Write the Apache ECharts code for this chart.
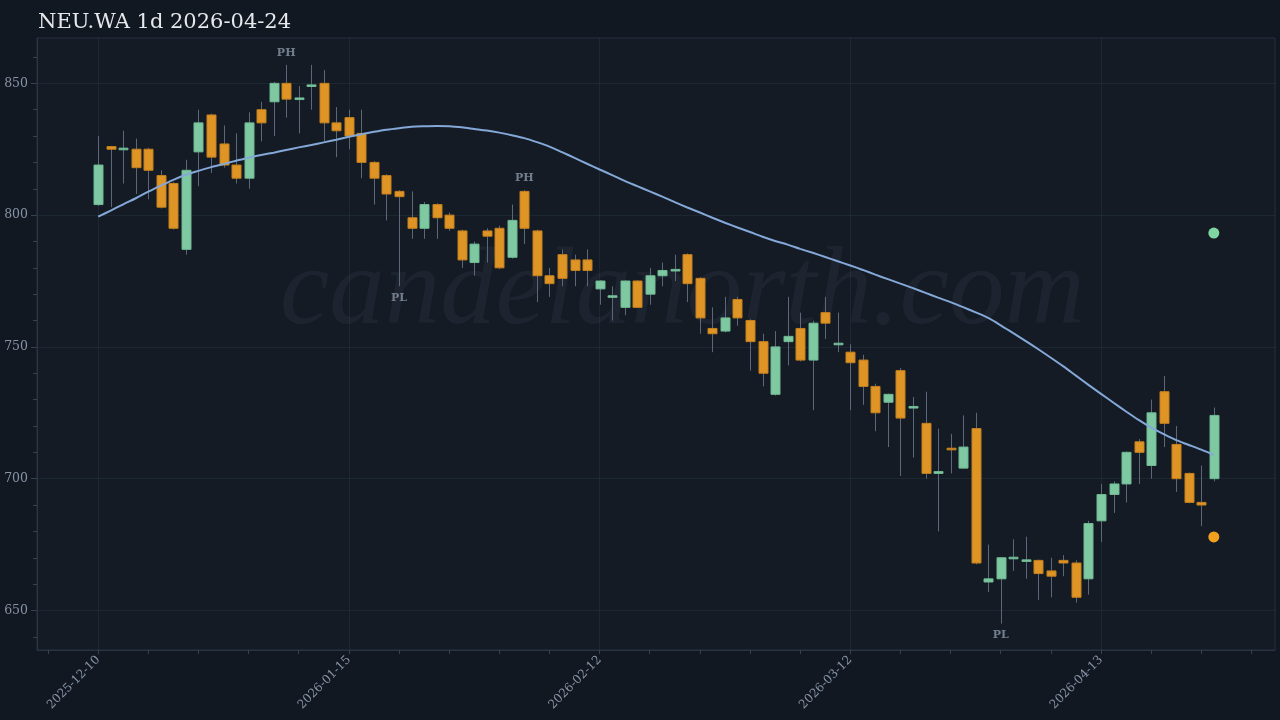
<!DOCTYPE html>
<html><head><meta charset="utf-8">
<script src="https://cdn.jsdelivr.net/npm/echarts@6/dist/echarts.min.js"></script>
<style>html,body{margin:0;padding:0;background:#111821;}#c{width:1280px;height:720px;}</style>
</head><body><div id="c"></div>
<script>
const dates = ['2025-12-10','2025-12-11','2025-12-12','2025-12-15','2025-12-16','2025-12-17','2025-12-18','2025-12-19','2025-12-22','2025-12-23',
'2025-12-29','2025-12-30','2026-01-02','2026-01-05','2026-01-07','2026-01-08','2026-01-09','2026-01-12','2026-01-13','2026-01-14',
'2026-01-15','2026-01-16','2026-01-19','2026-01-20','2026-01-21','2026-01-22','2026-01-23','2026-01-26','2026-01-27','2026-01-28',
'2026-01-29','2026-01-30','2026-02-02','2026-02-03','2026-02-04','2026-02-05','2026-02-06','2026-02-09','2026-02-10','2026-02-11',
'2026-02-12','2026-02-13','2026-02-16','2026-02-17','2026-02-18','2026-02-19','2026-02-20','2026-02-23','2026-02-24','2026-02-25',
'2026-02-26','2026-02-27','2026-03-02','2026-03-03','2026-03-04','2026-03-05','2026-03-06','2026-03-09','2026-03-10','2026-03-11',
'2026-03-12','2026-03-13','2026-03-16','2026-03-17','2026-03-18','2026-03-19','2026-03-20','2026-03-23','2026-03-24','2026-03-25',
'2026-03-26','2026-03-27','2026-03-30','2026-03-31','2026-04-01','2026-04-02','2026-04-07','2026-04-08','2026-04-09','2026-04-10',
'2026-04-13','2026-04-14','2026-04-15','2026-04-16','2026-04-17','2026-04-20','2026-04-21','2026-04-22','2026-04-23','2026-04-24'];

const opens = [804,826,825,825,825,815,812,787,824,838,
827,819,814,840,843,850,844,849,850,835,
837,831,820,815,809,799,795,804,800,794,
782,794,795,784,809,794,777,785,783,783,
772,769,765,775,770,777,779,785,776,757,
756,768,760,752,732,752,757,745,763,751,
748,745,735,729,741,727,721,702,711.5,704,
719,660.8,662,669.8,668.8,669,665,669,668,662,
684,694,698,714,705,733,713,702,691,700];

const closes = [819,825,825.2,818,817,803,795,817,835,822,
819,814,835,835,850,844,844.3,849.2,835,832,
830,820,814,808,807,795,804,799,795,783,
789,792,780,798,795,777,774,776,779,779,
775,769.2,775,765,777,779,779.2,774,761,755,
761,761,752,740,750,754,745,759,759,751.2,
744,735,725,732,723,727.2,702,702.7,711,712,
668,662,670,670,669,664,663,668,655,683,
694,698,710,710,725,721,700,691,690,724];

const lows = [803.5,803,812,808,806,802.5,794.5,785,811,816,
818,812,810,828,830,837,831,840,828,822,
825,814,804,798,773,791,791,791,794,780,
777,782,779.5,783.5,789,767,769,773,773,773,
766,760,762,764.7,766,773,775,767,755,748,
755.5,758,741,735,731.5,743,744.5,726,753,748,
726,728,718,712,701,708,700,680,702,703.8,
667.5,657,645,665,662,654,655,663,653,656,
676,687,691,698,700,712,695,690.7,682,699];

const highs = [830,826.3,832,829,825.5,817,812.5,821,840,838.5,
834,831,839,843,850.5,857,849,857,855,841,
840,840,820.5,815.5,809.5,809,805,804.5,801,794.5,
790,795,796,804,809.5,794.5,780,787,785,787,
775.3,773,775.3,775.3,780,782,785,785.5,776.5,765,
769,769,760.5,755,756,769,763,760,769,763,
751,747,736,732.3,742,731,733,719,717,724,
725,675,670.3,677,678,669.3,670,671,669,684,
698,699,710.3,715,730,739,720,702.3,705,727];

const maLine = [799.4,801.7,804.1,806.4,808.9,811.2,813.4,815.3,816.8,818.2,
819.4,820.6,821.8,822.8,823.7,824.7,825.7,826.6,827.6,828.6,
829.7,830.7,831.6,832.4,833.0,833.5,833.7,833.8,833.7,833.3,
832.7,832.1,831.3,830.3,829.2,827.7,826.0,823.9,821.7,819.5,
817.3,815.2,813.0,811.0,809.0,807.0,804.9,802.9,801.0,799.0,
797.1,795.3,793.6,791.8,790.2,788.8,787.2,785.7,784.1,782.5,
780.9,779.2,777.4,775.7,774.0,772.3,770.5,768.7,767.0,765.1,
763.1,761.0,758.2,755.2,752.2,749.1,745.9,742.6,739.1,735.6,
732.2,728.8,725.5,722.3,719.4,716.9,714.6,712.8,711.0,709.0];

const pivotHighs = [[15, 857], [34, 809.5]];
const pivotLows = [[24, 773], [72, 645]];
const targetUp = [[89, 793.2]];
const targetDown = [[89, 677.9]];

const xLabelTicks = [0, 20, 40, 60, 80];
const xMinorTicks = [-4,0,4,8,12,16,20,24,28,32,36,40,44,48,52,56,60,64,68,72,76,80,84,88,92];
const yMajorTicks = [650, 700, 750, 800, 850];
const yMinorTicks = [640,660,670,680,690,710,720,730,740,760,770,780,790,810,820,830,840,860];

const candleData = dates.map((d, i) => [i, opens[i], closes[i], lows[i], highs[i]]);
const maData = maLine.map((v, i) => [i, v]);

const FONT = 'DejaVu Serif';
const LABEL_COLOR = '#8794a6';
const UP = '#7fc9a2', DOWN = '#df9426';

function renderCandle(params, api) {
  const x = api.value(0), o = api.value(1), c = api.value(2), l = api.value(3), h = api.value(4);
  const pO = api.coord([x, o]), pC = api.coord([x, c]), pL = api.coord([x, l]), pH = api.coord([x, h]);
  const up = c >= o;
  const w = 9;
  const cx = Math.round(pO[0]) + 0.5;
  let top = Math.min(pO[1], pC[1]), bh = Math.abs(pO[1] - pC[1]);
  if (bh < 1.6) { top -= (1.6 - bh) / 2; bh = 1.6; }
  return {
    type: 'group',
    children: [
      { type: 'line', shape: { x1: cx, y1: pH[1], x2: cx, y2: pL[1] },
        style: { stroke: '#5b6879', lineWidth: 1 } },
      { type: 'rect', shape: { x: cx - w / 2, y: top, width: w, height: bh },
        style: { fill: up ? UP : DOWN, stroke: up ? '#6fb993' : '#c4801d', lineWidth: 1 } }
    ]
  };
}

const chart = echarts.init(document.getElementById('c'), null, { renderer: 'canvas' });
chart.setOption({
  backgroundColor: '#111821',
  animation: false,
  title: {
    text: 'NEU.WA 1d 2026-04-24', left: 33, top: 7,
    textStyle: { fontFamily: FONT, fontSize: 21, fontWeight: 'normal', color: '#e6e8ec' }
  },
  graphic: [{
    type: 'text', left: 280, top: 238, z: 0, silent: true,
    style: { text: 'candelanorth.com', font: 'italic 111px "Liberation Serif"', fill: 'rgba(150,165,185,0.075)' }
  }],
  grid: {
    left: 37, top: 38, width: 1238, height: 612, show: true,
    backgroundColor: '#141b25', borderColor: '#263140', borderWidth: 1,
    outerBoundsMode: 'none', containLabel: false
  },
  xAxis: [{
    type: 'value', min: -4.88, max: 93.88, position: 'bottom',
    axisLine: { show: true, onZero: false, lineStyle: { color: '#2a3544' } },
    axisTick: { show: false, customValues: xLabelTicks },
    axisLabel: { customValues: xLabelTicks, rotate: 45, color: LABEL_COLOR, fontFamily: FONT, fontSize: 12, margin: 8,
      formatter: v => dates[Math.round(v)] || '' },
    splitLine: { show: true, lineStyle: { color: 'rgba(70,105,110,0.16)' } }
  }, {
    type: 'value', min: -4.88, max: 93.88, position: 'bottom',
    axisLine: { show: false, onZero: false },
    axisTick: { show: true, customValues: xMinorTicks, length: 4, lineStyle: { color: '#364252' } },
    axisLabel: { show: false },
    splitLine: { show: false }
  }],
  yAxis: [{
    type: 'value', min: 635, max: 867.2, position: 'left', scale: true,
    axisLine: { show: true, onZero: false, lineStyle: { color: '#2a3544' } },
    axisTick: { show: true, customValues: yMajorTicks, length: 6, lineStyle: { color: '#364252' } },
    axisLabel: { customValues: yMajorTicks, color: LABEL_COLOR, fontFamily: FONT, fontSize: 12.5, margin: 9 },
    splitLine: { show: true, lineStyle: { color: 'rgba(70,105,110,0.16)' } }
  }, {
    type: 'value', min: 635, max: 867.2, position: 'left', scale: true,
    axisLine: { show: false, onZero: false },
    axisTick: { show: true, customValues: yMinorTicks, length: 4, lineStyle: { color: '#364252' } },
    axisLabel: { show: false },
    splitLine: { show: false }
  }],
  series: [{
    type: 'custom', name: 'candles', xAxisIndex: 0, yAxisIndex: 0,
    renderItem: renderCandle, data: candleData, encode: { x: 0, y: [1, 2, 3, 4] }, z: 3
  }, {
    type: 'line', name: 'ma', xAxisIndex: 0, yAxisIndex: 0, data: maData, smooth: 0.3,
    showSymbol: false, symbol: 'none', lineStyle: { color: '#84a8d8', width: 2 }, z: 4
  }, {
    type: 'scatter', xAxisIndex: 0, yAxisIndex: 0, data: pivotHighs, symbolSize: 0, z: 5,
    label: { show: true, position: 'top', distance: 6, formatter: 'PH', color: '#8a97a9', fontFamily: FONT, fontSize: 11, fontWeight: 'bold' }
  }, {
    type: 'scatter', xAxisIndex: 0, yAxisIndex: 0, data: pivotLows, symbolSize: 0, z: 5,
    label: { show: true, position: 'bottom', distance: 6, formatter: 'PL', color: '#8a97a9', fontFamily: FONT, fontSize: 11, fontWeight: 'bold' }
  }, {
    type: 'scatter', xAxisIndex: 0, yAxisIndex: 0, data: targetUp, symbolSize: 11, z: 6,
    itemStyle: { color: '#7fd6a0', opacity: 1 }
  }, {
    type: 'scatter', xAxisIndex: 0, yAxisIndex: 0, data: targetDown, symbolSize: 11, z: 6,
    itemStyle: { color: '#f2a11f', opacity: 1 }
  }]
});
</script>
</body></html>
